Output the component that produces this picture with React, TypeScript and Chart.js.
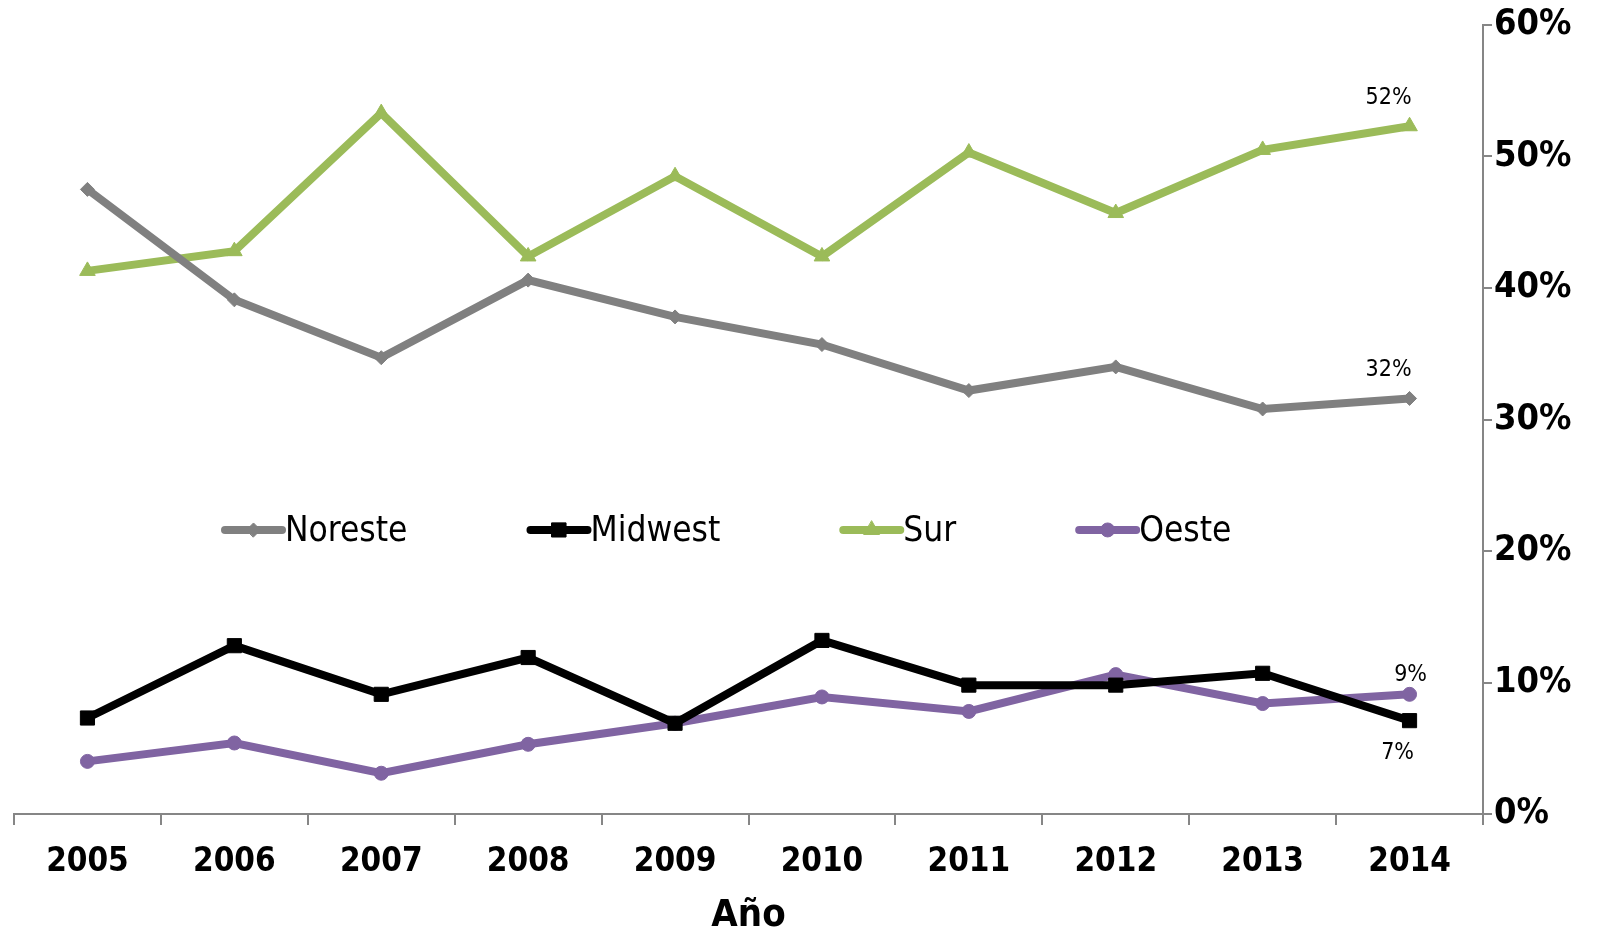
import React, { useEffect, useRef } from "react";
import { Chart, registerables } from "chart.js";
import { drawPoint } from "chart.js/helpers";

Chart.register(...registerables);

const years = ["2005", "2006", "2007", "2008", "2009", "2010", "2011", "2012", "2013", "2014"];
const noreste = [47.5, 39.1, 34.7, 40.6, 37.8, 35.7, 32.2, 34.0, 30.8, 31.6];
const midwest = [7.3, 12.8, 9.1, 11.9, 6.9, 13.2, 9.8, 9.8, 10.7, 7.1];
const sur = [41.3, 42.8, 53.3, 42.4, 48.5, 42.4, 50.3, 45.7, 50.5, 52.3];
const oeste = [4.0, 5.4, 3.1, 5.3, 6.9, 8.9, 7.8, 10.6, 8.4, 9.1];
const yTicks = [0, 10, 20, 30, 40, 50, 60];
const endLabels = ["32%", "7%", "52%", "9%"];

const FONT = "'DejaVu Sans Condensed', 'DejaVu Sans', sans-serif";

const legendPlugin = {
  id: "midLegend",
  afterDraw(chart: any) {
    const { ctx, chartArea } = chart;
    const y = chart.scales.y.getPixelForValue(21.6);
    let x = chartArea.left + 211;
    ctx.save();
    ctx.font = `normal 35px ${FONT}`;
    ctx.textBaseline = "middle";
    chart.data.datasets.forEach((ds: any) => {
      const lineW = 57;
      ctx.strokeStyle = ds.borderColor;
      ctx.lineWidth = 8;
      ctx.lineCap = "round";
      ctx.beginPath();
      ctx.moveTo(x, y);
      ctx.lineTo(x + lineW, y);
      ctx.stroke();
      ctx.fillStyle = ds.borderColor;
      ctx.lineWidth = 1;
      drawPoint(ctx, {
        pointStyle: ds.pointStyle,
        radius: ds.pointRadius,
        borderWidth: 1,
        rotation: 0,
      } as any, x + lineW / 2, y);
      ctx.fillStyle = "#000";
      ctx.textAlign = "left";
      ctx.fillText(ds.label, x + lineW + 3, y + 2);
      const tw = ctx.measureText(ds.label).width;
      x += lineW + 3 + tw + 123;
    });
    ctx.restore();
  },
};

const labelOffsets = [
  { dx: -21, dy: -28 },
  { dx: -12, dy: 32 },
  { dx: -21, dy: -28 },
  { dx: 1, dy: -19 },
];

const endLabelPlugin = {
  id: "endLabels",
  afterDatasetsDraw(chart: any) {
    const { ctx } = chart;
    ctx.save();
    ctx.font = `normal 23px ${FONT}`;
    ctx.fillStyle = "#000";
    ctx.textAlign = "center";
    ctx.textBaseline = "middle";
    chart.data.datasets.forEach((ds: any, i: number) => {
      const meta = chart.getDatasetMeta(i);
      const pt = meta.data[meta.data.length - 1];
      const off = labelOffsets[i];
      ctx.fillText(endLabels[i], pt.x + off.dx, pt.y + off.dy);
    });
    ctx.restore();
  },
};

export default function App() {
  const ref = useRef<HTMLCanvasElement>(null);
  useEffect(() => {
    const canvas = ref.current!;
    const mk = (label: string, data: number[], color: string, style: string, r: number) => ({
      label,
      data,
      borderColor: color,
      backgroundColor: color,
      pointBackgroundColor: color,
      pointBorderColor: color,
      borderWidth: 8,
      pointStyle: style,
      pointRadius: r,
      pointBorderWidth: 1,
      tension: 0,
    });
    const chart = new Chart(canvas, {
      type: "line",
      data: {
        labels: years,
        datasets: [
          mk("Noreste", noreste, "#808080", "rectRot", 7),
          mk("Midwest", midwest, "#000000", "rect", 10),
          mk("Sur", sur, "#9BBB59", "triangle", 9),
          mk("Oeste", oeste, "#8064A2", "circle", 7),
        ],
      },
      options: {
        animation: false,
        responsive: false,
        devicePixelRatio: 1,
        layout: { padding: { left: 14, right: 0, top: 25, bottom: 0 } },
        plugins: { legend: { display: false }, tooltip: { enabled: false } },
        scales: {
          x: {
            offset: true,
            grid: {
              offset: true,
              drawOnChartArea: false,
              drawTicks: true,
              tickLength: 11,
              color: "#868686",
              lineWidth: 2,
            },
            border: { color: "#868686", width: 2 },
            ticks: {
              color: "#000",
              font: { family: FONT, size: 33, weight: "bold" },
              padding: 18,
              maxRotation: 0,
            },
            title: {
              display: true,
              text: "Año",
              color: "#000",
              font: { family: FONT, size: 38, weight: "bold" },
              padding: { top: 0, bottom: -11 },
            },
            afterFit(s: any) {
              s.height = 114;
            },
          },
          y: {
            position: "right",
            min: 0,
            max: 60,
            afterBuildTicks(s: any) {
              s.ticks = yTicks.map((v) => ({ value: v }));
            },
            grid: {
              drawOnChartArea: false,
              drawTicks: true,
              tickLength: 9,
              color: "#868686",
              lineWidth: 2,
            },
            border: { color: "#868686", width: 2 },
            ticks: {
              color: "#000",
              font: { family: FONT, size: 36, weight: "bold" },
              padding: 2,
              callback: (v: any) => `${v}%`,
            },
            afterFit(s: any) {
              s.width = 117;
            },
          },
        },
      },
      plugins: [legendPlugin, endLabelPlugin],
    } as any);
    return () => chart.destroy();
  }, []);
  return (
    <div style={{ position: "fixed", left: 0, top: 0, width: 1600, height: 928, background: "#fff" }}>
      <canvas ref={ref} width={1600} height={928} style={{ width: 1600, height: 928 }} />
    </div>
  );
}
